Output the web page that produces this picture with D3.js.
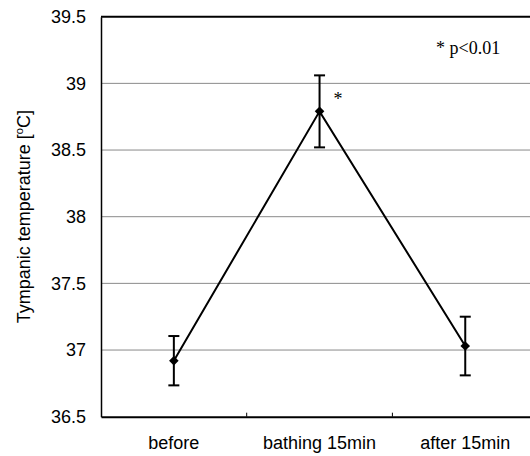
<!DOCTYPE html>
<html>
<head>
<meta charset="utf-8">
<script src="https://cdn.jsdelivr.net/npm/d3@7"></script>
<style>
  html, body { margin: 0; padding: 0; background: #fff; }
  svg { display: block; }
</style>
</head>
<body>
<svg id="chart" width="530" height="456"></svg>
<script>
// Tympanic temperature before, during and after bathing (mean ± SD)
const categories = ["before", "bathing 15min", "after 15min"];
const meanTemp = [36.92, 38.79, 37.03];
const errTemp = [0.185, 0.27, 0.22];
const significant = [false, true, false];
const yTicks = [36.5, 37, 37.5, 38, 38.5, 39, 39.5];
const yLabel = "Tympanic temperature [";
const noteText = "* p<0.01";

const svg = d3.select("#chart");
const margin = { left: 101, top: 16.7, bottom: 416.7 };
const bandW = 145.7;
const right = margin.left + bandW * categories.length;

const x = d3.scaleBand().domain(categories).range([margin.left, right]).padding(0);
const y = d3.scaleLinear().domain([36.5, 39.5]).range([margin.bottom, margin.top]);

// horizontal grid lines
svg.append("g")
  .selectAll("line")
  .data(yTicks.filter(t => t > 36.5 && t < 39.5))
  .join("line")
  .attr("x1", margin.left).attr("x2", right)
  .attr("y1", d => y(d)).attr("y2", d => y(d))
  .attr("stroke", "#8a8a8a").attr("stroke-width", 1);

// frame: top border
svg.append("line")
  .attr("x1", margin.left).attr("x2", right)
  .attr("y1", margin.top).attr("y2", margin.top)
  .attr("stroke", "#000").attr("stroke-width", 2);
svg.append("line")
  .attr("x1", right).attr("x2", right)
  .attr("y1", margin.top).attr("y2", margin.bottom)
  .attr("stroke", "#000").attr("stroke-width", 1.5);

// y axis
const yAxis = svg.append("g")
  .attr("transform", `translate(${margin.left},0)`)
  .call(d3.axisLeft(y).tickValues(yTicks).tickSize(0).tickPadding(15).tickFormat(d3.format("")));
yAxis.select(".domain").attr("stroke", "#000").attr("stroke-width", 1.5);
yAxis.selectAll("text")
  .attr("font-family", "Liberation Sans, Arial, sans-serif")
  .attr("font-size", 18).attr("fill", "#000");

// x axis with inward ticks at category boundaries
const xAxis = svg.append("g")
  .attr("transform", `translate(0,${margin.bottom})`)
  .call(d3.axisBottom(x).tickSize(0).tickPadding(0));
xAxis.select(".domain").attr("stroke", "#000").attr("stroke-width", 2);
xAxis.selectAll(".tick line").remove();
xAxis.selectAll(".tick text")
  .attr("y", 32)
  .attr("dy", 0)
  .attr("font-family", "Liberation Sans, Arial, sans-serif")
  .attr("font-size", 18).attr("fill", "#000");
svg.append("g")
  .selectAll("line")
  .data(categories.slice(1))
  .join("line")
  .attr("x1", d => x(d)).attr("x2", d => x(d))
  .attr("y1", margin.bottom).attr("y2", margin.bottom - 4)
  .attr("stroke", "#000").attr("stroke-width", 1);

// y axis title
const title = svg.append("text")
  .attr("transform", `translate(30,${(margin.top + margin.bottom) / 2}) rotate(-90)`)
  .attr("text-anchor", "middle")
  .attr("font-family", "Liberation Sans, Arial, sans-serif")
  .attr("font-size", 18).attr("fill", "#000");
title.append("tspan").text(yLabel);
title.append("tspan").attr("font-size", 11).attr("dy", -7).text("o");
title.append("tspan").attr("dy", 7).text("C]");

const cx = d => x(d) + x.bandwidth() / 2;
const pts = categories.map((c, i) => ({ c, m: meanTemp[i], e: errTemp[i], s: significant[i] }));

// connecting line
svg.append("path")
  .datum(pts)
  .attr("fill", "none").attr("stroke", "#000").attr("stroke-width", 2)
  .attr("d", d3.line().x(d => cx(d.c)).y(d => y(d.m)));

// error bars
const eb = svg.append("g").attr("stroke", "#000").attr("stroke-width", 2);
eb.selectAll(".v").data(pts).join("line").attr("class", "v")
  .attr("x1", d => cx(d.c)).attr("x2", d => cx(d.c))
  .attr("y1", d => y(d.m - d.e)).attr("y2", d => y(d.m + d.e));
eb.selectAll(".t").data(pts).join("line").attr("class", "t")
  .attr("x1", d => cx(d.c) - 5.5).attr("x2", d => cx(d.c) + 5.5)
  .attr("y1", d => y(d.m + d.e)).attr("y2", d => y(d.m + d.e));
eb.selectAll(".b").data(pts).join("line").attr("class", "b")
  .attr("x1", d => cx(d.c) - 5.5).attr("x2", d => cx(d.c) + 5.5)
  .attr("y1", d => y(d.m - d.e)).attr("y2", d => y(d.m - d.e));

// diamond markers
svg.append("g").selectAll("path").data(pts).join("path")
  .attr("transform", d => `translate(${cx(d.c)},${y(d.m)}) rotate(45)`)
  .attr("d", d3.symbol(d3.symbolSquare, 46)())
  .attr("fill", "#000");

// significance mark
svg.append("g").selectAll("text").data(pts.filter(d => d.s)).join("text")
  .attr("x", d => cx(d.c) + 14)
  .attr("y", d => y(d.m + d.e) + 30)
  .attr("font-family", "Liberation Serif, Times New Roman, serif")
  .attr("font-size", 18).attr("fill", "#000")
  .text("*");

// note
svg.append("text")
  .attr("x", 436).attr("y", 54)
  .attr("font-family", "Liberation Serif, Times New Roman, serif")
  .attr("font-size", 18).attr("fill", "#000")
  .text(noteText);
</script>
</body>
</html>
